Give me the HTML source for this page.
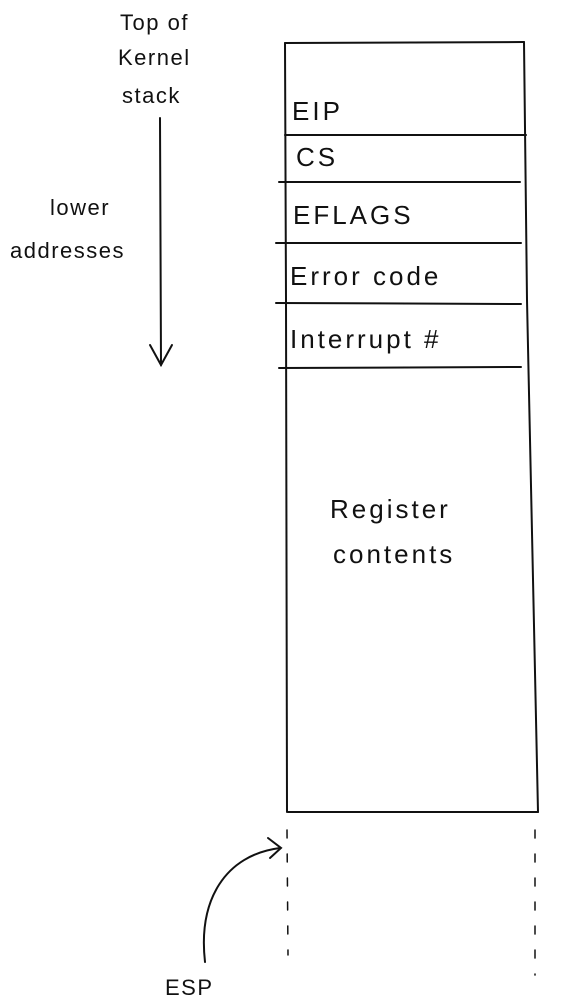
<!DOCTYPE html>
<html><head><meta charset="utf-8"><style>
html,body{margin:0;padding:0;background:#fff;}
svg{display:block}
text{font-family:"Liberation Sans",sans-serif;fill:#111;}
</style></head><body>
<svg width="578" height="1007" viewBox="0 0 578 1007" xmlns="http://www.w3.org/2000/svg">
<g stroke="#111" stroke-width="2" fill="none" stroke-linecap="round">
<path d="M285 43 L524 42"/>
<path d="M285 43 L286 300 L287 812"/>
<path d="M524 42 L527 300 L538 812"/>
<path d="M288 812 L538 812"/>
<path d="M285 135 L526 135"/>
<path d="M279 182 L520 182"/>
<path d="M276 243 L521 243"/>
<path d="M276 303 L521 304"/>
<path d="M279 368 L521 367"/>
<path d="M287 830 L288 955" stroke-dasharray="8 16" stroke-width="1.5"/>
<path d="M535 830 L535 975" stroke-dasharray="8 16" stroke-width="1.5"/>
<path d="M160 118 L161 365"/>
<path d="M150 345 L161 365 L172 345"/>
<path d="M205 962 C198 900 225 855 280 848"/>
<path d="M268 838 L281 848 L270 858"/>
</g>
<g font-size="22" letter-spacing="1.5">
<text x="120" y="30">Top of</text>
<text x="118" y="65">Kernel</text>
<text x="122" y="103">stack</text>
<text x="50" y="215">lower</text>
<text x="10" y="258">addresses</text>
<text x="165" y="995">ESP</text>
</g>
<g font-size="26" letter-spacing="3">
<text x="292" y="120">EIP</text>
<text x="296" y="166">CS</text>
<text x="293" y="224">EFLAGS</text>
<text x="290" y="285">Error code</text>
<text x="290" y="348">Interrupt #</text>
<text x="330" y="518">Register</text>
<text x="333" y="563">contents</text>
</g>
</svg>
</body></html>
